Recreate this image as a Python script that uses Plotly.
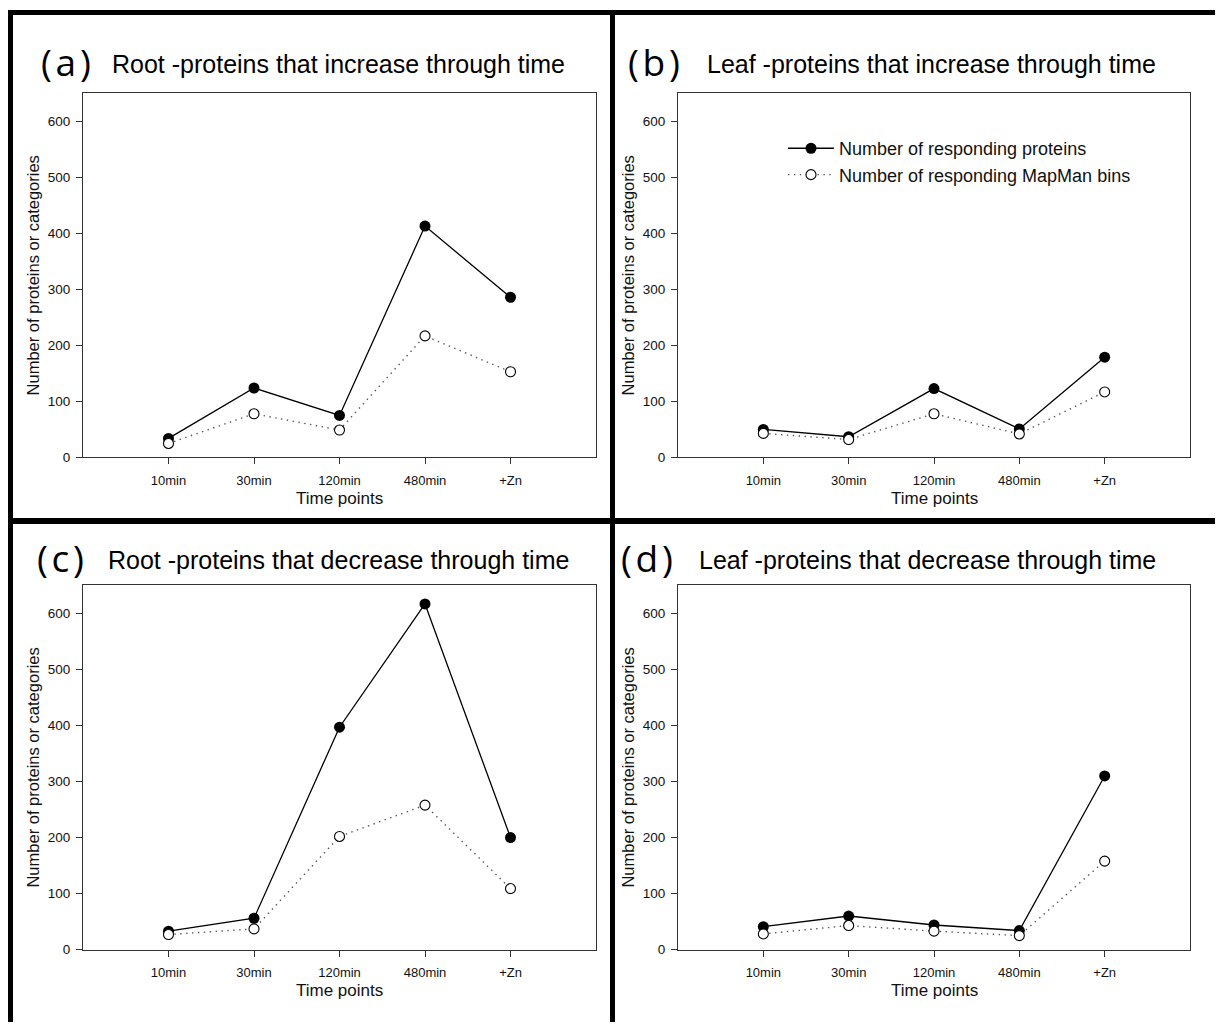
import plotly.graph_objects as go

W, H = 1223, 1030
OFF = 8  # page body margin offset

# ---------------- data ----------------
categories = ["10min", "30min", "120min", "480min", "+Zn"]
x_pos = [1, 2, 3, 4, 5]
y_ticks = [0, 100, 200, 300, 400, 500, 600]

root_inc_proteins = [34, 124, 75, 413, 286]
root_inc_bins = [25, 78, 49, 217, 153]
leaf_inc_proteins = [50, 37, 123, 51, 179]
leaf_inc_bins = [43, 32, 78, 42, 117]
root_dec_proteins = [33, 56, 397, 617, 200]
root_dec_bins = [27, 37, 202, 258, 109]
leaf_dec_proteins = [41, 60, 44, 34, 310]
leaf_dec_bins = [28, 43, 33, 25, 158]

series_names = ["Number of responding proteins", "Number of responding MapMan bins"]
panel_letters = ["(a)", "(b)", "(c)", "(d)"]
panel_titles = [
    "Root -proteins that increase through time",
    "Leaf -proteins that increase through time",
    "Root -proteins that decrease through time",
    "Leaf -proteins that decrease through time",
]
x_title = "Time points"
y_title = "Number of proteins or categories"

panel_data = [
    (root_inc_proteins, root_inc_bins),
    (leaf_inc_proteins, leaf_inc_bins),
    (root_dec_proteins, root_dec_bins),
    (leaf_dec_proteins, leaf_dec_bins),
]

# ---------------- layout helpers (pixel -> paper) ----------------
def px(x):
    return (x - OFF) / W

def py(y):
    return 1 - (y - OFF) / H

# plot boxes in pixels: (left, right, top, bottom)
boxes = [
    (83, 596, 94, 461),
    (678, 1190, 94, 461),
    (83, 596, 590, 957),
    (678, 1190, 590, 957),
]
# panel letter / title positions: (letter_x, title_x, title_y_center)
heads = [
    (39, 110, 62),
    (626, 705, 62),
    (35, 106, 562),
    (619, 697, 562),
]

FONT = "Liberation Sans, Arial, sans-serif"
AX_COLOR = "#333333"
HS = "\u200a"

fig = go.Figure()
layout = dict(
    width=W, height=H,
    margin=dict(l=0, r=0, t=0, b=0),
    paper_bgcolor="white", plot_bgcolor="white",
    font=dict(family=FONT, color="#111111"),
    showlegend=True,
    legend=dict(
        x=px(783), y=py(131), xanchor="left", yanchor="top",
        font=dict(size=18, family=FONT, color="#111111"),
        bgcolor="rgba(0,0,0,0)", tracegroupgap=0, itemwidth=46,
    ),
)

annotations = []
for i, (box, head, (prot, bins)) in enumerate(zip(boxes, heads, panel_data)):
    l, r, t, b = box
    n = "" if i == 0 else str(i + 1)
    xa, ya = "x" + n, "y" + n
    layout["xaxis" + n] = dict(
        domain=[px(l), px(r)], anchor=ya, range=[0, 6],
        tickmode="array", tickvals=x_pos, ticktext=categories,
        ticks="outside", ticklen=6, tickcolor=AX_COLOR, tickwidth=1,
        ticklabelstandoff=5,
        showline=True, linecolor=AX_COLOR, linewidth=1, mirror=True,
        showgrid=False, zeroline=False,
        tickfont=dict(size=13, family=FONT, color="#111111"),
    )
    layout["yaxis" + n] = dict(
        domain=[py(b), py(t)], anchor=xa, range=[0, 650],
        tickmode="array", tickvals=y_ticks,
        ticks="outside", ticklen=6, tickcolor=AX_COLOR, tickwidth=1,
        ticklabelstandoff=3,
        showline=True, linecolor=AX_COLOR, linewidth=1, mirror=True,
        showgrid=False, zeroline=False,
        tickfont=dict(size=13.5, family=FONT, color="#111111"),
    )
    show = (i == 1)
    fig.add_trace(go.Scatter(
        x=x_pos, y=prot, xaxis=xa, yaxis=ya, mode="lines+markers",
        name=series_names[0], showlegend=show,
        line=dict(color="black", width=1.3),
        marker=dict(symbol="circle", size=11, color="black"),
    ))
    fig.add_trace(go.Scatter(
        x=x_pos, y=bins, xaxis=xa, yaxis=ya, mode="lines+markers",
        name=series_names[1], showlegend=show,
        line=dict(color="#555555", width=1.4, dash="1.4px,4.5px"),
        marker=dict(symbol="circle", size=10, color="white",
                    line=dict(color="black", width=1.1)),
    ))
    lx, tx, ty = head
    annotations.append(dict(
        x=px(lx), y=py(ty), xref="paper", yref="paper", xanchor="left", yanchor="middle",
        text="(" + HS + panel_letters[i][1] + HS + ")", showarrow=False,
        font=dict(size=37, family="Open Sans, DejaVu Sans, sans-serif", color="black"),
    ))
    annotations.append(dict(
        x=px(tx), y=py(ty + 2), xref="paper", yref="paper", xanchor="left", yanchor="middle",
        text=panel_titles[i], showarrow=False,
        font=dict(size=25, family=FONT, color="black"),
    ))
    # axis titles
    annotations.append(dict(
        x=px((l + r) / 2), y=py(b + 41), xref="paper", yref="paper",
        xanchor="center", yanchor="middle", text=x_title, showarrow=False,
        font=dict(size=17, family=FONT, color="#111111"),
    ))
    annotations.append(dict(
        x=px(l - 50), y=py((t + b) / 2), xref="paper", yref="paper",
        xanchor="center", yanchor="middle", text=y_title, showarrow=False,
        textangle=-90, font=dict(size=16.5, family=FONT, color="#111111"),
    ))

layout["annotations"] = annotations

# thick black frame lines
def rect(x0, x1, y0, y1):
    return dict(type="rect", xref="paper", yref="paper",
                x0=px(x0), x1=px(x1), y0=py(y1), y1=py(y0),
                fillcolor="black", line=dict(width=0), layer="above")

layout["shapes"] = [
    rect(8, W, 10, 15),        # top
    rect(8, 13, 10, H),        # left
    rect(610, 615, 10, H),     # middle vertical
    rect(8, W, 522, 528),      # middle horizontal
]

fig.update_layout(**layout)
fig.write_html("out.html")
